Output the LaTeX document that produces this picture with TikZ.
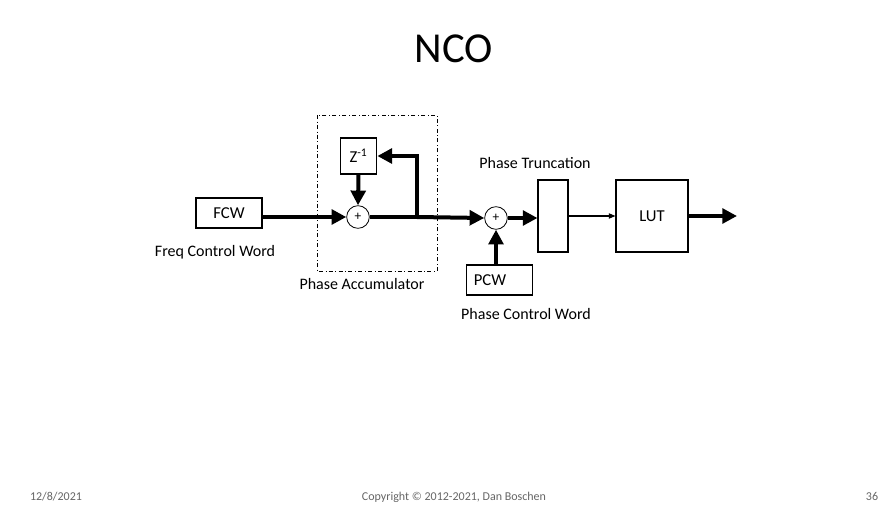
\documentclass[tikz,border=0pt]{standalone}
\usepackage{fontspec}
\setmainfont{Carlito}
\usetikzlibrary{arrows.meta}
\begin{document}
\begin{tikzpicture}[x=0.75pt,y=-0.75pt,
  blk/.style={draw,line width=0.8pt,inner sep=0pt,font=\fontsize{12.5pt}{14pt}\selectfont},
  sumnode/.style={draw,circle,line width=0.6pt,minimum size=17pt,inner sep=0pt,font=\fontsize{10pt}{12pt}\selectfont},
  lbl/.style={font=\fontsize{12pt}{14pt}\selectfont,inner sep=0pt},
  foot/.style={font=\fontsize{9pt}{10pt}\selectfont,text=black!60,inner sep=0pt,anchor=base},
  bus/.style={line width=3pt,-{Triangle[length=11pt,width=11pt]}},
  busplain/.style={line width=3pt},
  thin/.style={line width=0.8pt,-{Triangle[length=5pt,width=4pt]}}]
\useasboundingbox (0,0) rectangle (888,514);
\fill[white] (0,0) rectangle (888,514);
\node[font=\fontsize{32pt}{36pt}\selectfont,inner sep=0pt] (title) at (454,49) {NCO};
% dashed accumulator box
\draw[dash dot,line width=0.6pt] (317,115) rectangle (437,271);
\node[lbl] (accl) at (362,284) {Phase Accumulator};
% blocks
\node[blk,minimum width=49.5pt,minimum height=22.5pt] (fcw) at (229,213) {FCW};
\node[lbl] (fcwl) at (215,252) {Freq Control Word};
\node[blk,minimum width=27.5pt,minimum height=27pt] (z) at (358.5,156) {Z\textsuperscript{-1}};
\node[sumnode] (s1) at (358,217) {+};
\node[sumnode] (s2) at (496,218) {+};
\node[blk,minimum width=22.5pt,minimum height=54pt] (tr) at (553,216) {};
\node[lbl] (trl) at (535,163) {Phase Truncation};
\node[blk,minimum width=54pt,minimum height=54pt] (lut) at (652,216) {LUT};
\node[blk,minimum width=49pt,minimum height=22.5pt] (pcw) at (499.5,280) {};
\node[font=\fontsize{12.5pt}{14pt}\selectfont,inner sep=0pt] (pcwt) at (490,280) {PCW};
\node[lbl] (pcwl) at (526,314) {Phase Control Word};
\coordinate (j) at (417,217);
\coordinate (out) at (737,216);
% connectors
\draw[bus] (fcw.east |- s1.west) -- (s1.west);
\draw[bus] (z.south) -- (s1.north);
\draw[busplain] (s1.east) -- (j);
\draw[bus] (j) -- (s2.west);
\draw[bus] (j) -- (417,156) -- (z.east);
\draw[bus] (s2.east) -- (tr.west |- s2.east);
\draw[bus] (pcw.north -| s2.south) -- (s2.south);
\draw[thin] (tr.east) -- (lut.west);
\draw[bus] (lut.east) -- (out);
% footer
\node[foot] (date) at (56,500) {12/8/2021};
\node[foot] (copy) at (454,500) {Copyright © 2012-2021, Dan Boschen};
\node[foot] (page) at (872,500) {36};
\end{tikzpicture}
\end{document}
